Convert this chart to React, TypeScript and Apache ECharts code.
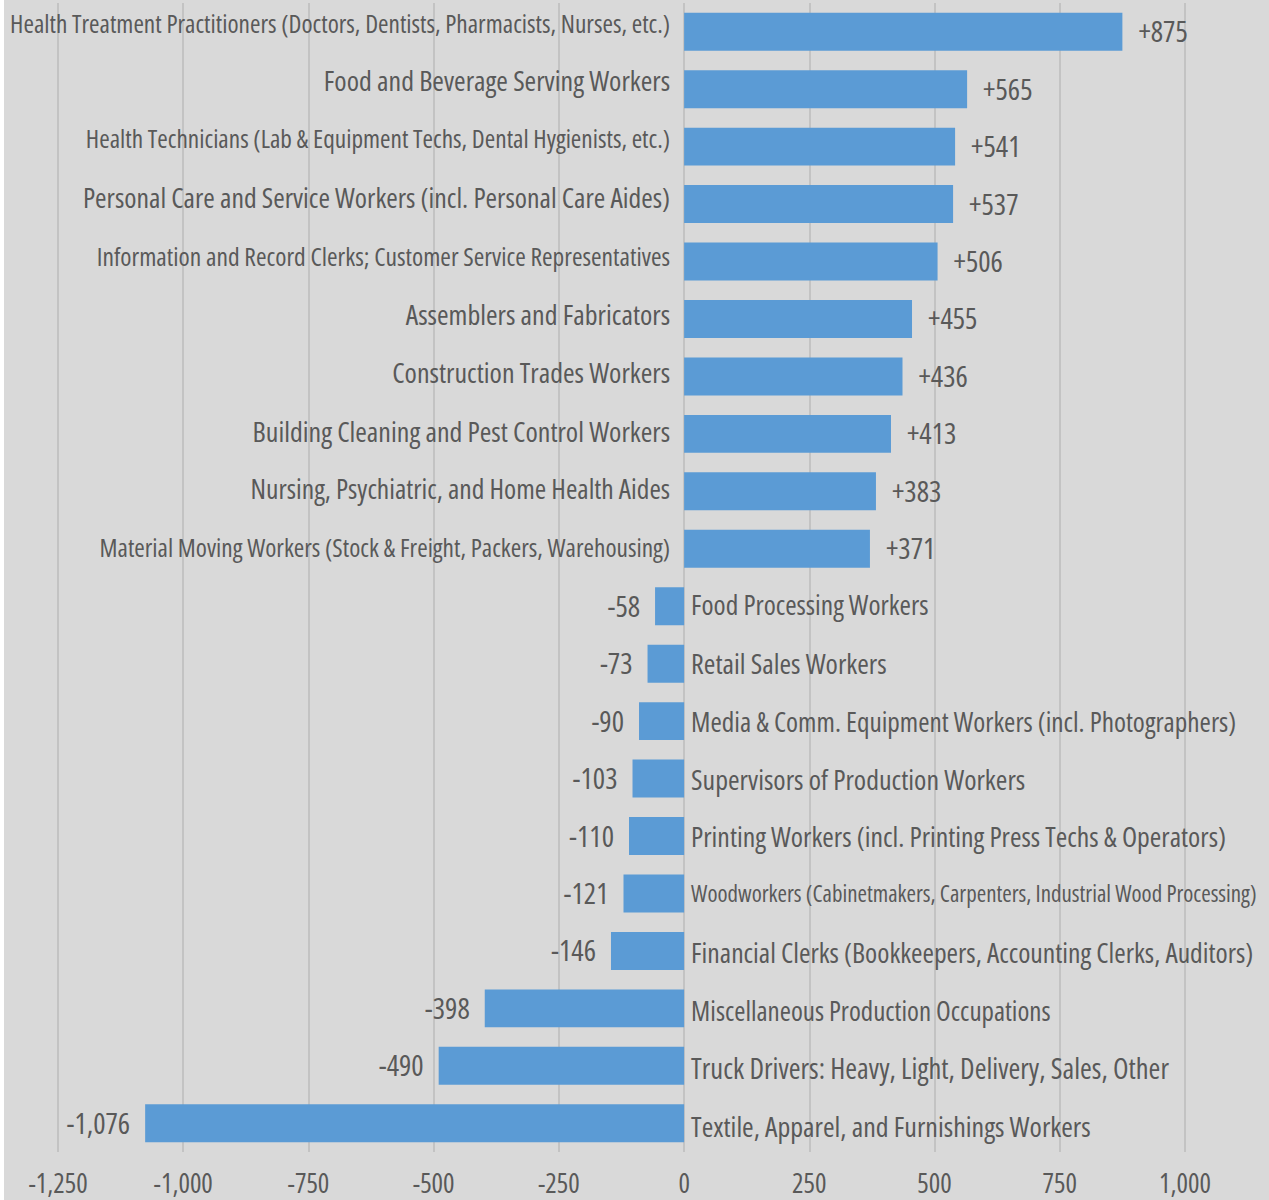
import React, { useEffect, useRef } from "react";
import * as echarts from "echarts";

const categories: string[] = [
  "Health Treatment Practitioners (Doctors, Dentists, Pharmacists, Nurses, etc.)",
  "Food and Beverage Serving Workers",
  "Health Technicians (Lab & Equipment Techs, Dental Hygienists, etc.)",
  "Personal Care and Service Workers (incl. Personal Care Aides)",
  "Information and Record Clerks; Customer Service Representatives",
  "Assemblers and Fabricators",
  "Construction Trades Workers",
  "Building Cleaning and Pest Control Workers",
  "Nursing, Psychiatric, and Home Health Aides",
  "Material Moving Workers (Stock & Freight, Packers, Warehousing)",
  "Food Processing Workers",
  "Retail Sales Workers",
  "Media & Comm. Equipment Workers (incl. Photographers)",
  "Supervisors of Production Workers",
  "Printing Workers (incl. Printing Press Techs & Operators)",
  "Woodworkers (Cabinetmakers, Carpenters, Industrial Wood Processing)",
  "Financial Clerks (Bookkeepers, Accounting Clerks, Auditors)",
  "Miscellaneous Production Occupations",
  "Truck Drivers: Heavy, Light, Delivery, Sales, Other",
  "Textile, Apparel, and Furnishings Workers",
];

const values: number[] = [
  875, 565, 541, 537, 506, 455, 436, 413, 383, 371,
  -58, -73, -90, -103, -110, -121, -146, -398, -490, -1076,
];

const tickValues: number[] = [-1250, -1000, -750, -500, -250, 0, 250, 500, 750, 1000];

// per-label font sizes and vertical nudges (style only)
const labelFontSizes: number[] = [
  25.3, 28, 25.3, 27.8, 25.5, 28, 28, 28, 27.6, 25.3,
  27.5, 28, 27.3, 28, 27.8, 22.9, 27.7, 27, 28.5, 28,
];
const labelNudges: number[] = [
  -9, -9, -9, -7, -6, -5, -4, -3, -3, -2,
  -2, -1, 0, 0, 0, 0, 1, 2, 2, 3,
];

const FONT = "Open Sans;font-stretch:75%";
const TEXT = "#595959";

const fmt = (v: number) => {
  const s = Math.abs(v).toLocaleString("en-US");
  return v < 0 ? "-" + s : s;
};

export default function App() {
  const ref = useRef<HTMLDivElement>(null);
  useEffect(() => {
    if (!ref.current) return;
    const chart = echarts.init(ref.current, undefined, { renderer: "svg" });
    const barData = values.map((v) => ({
      value: v,
      label: {
        position: v >= 0 ? "right" : "left",
        distance: v >= 0 ? 16 : 15,
        offset: [0, -1],
      },
    }));
    const nameData = values.map((v, i) => ({
      value: v,
      label: {
        position: v >= 0 ? "left" : "right",
        distance: v >= 0 ? 14 : 7,
        fontSize: labelFontSizes[i],
        offset: [0, labelNudges[i]],
      },
    }));
    chart.setOption({
      animation: false,
      backgroundColor: "#d9d9d9",
      grid: { left: 54, right: 84, top: 3, bottom: 48, containLabel: false },
      xAxis: {
        type: "value",
        min: tickValues[0],
        max: tickValues[tickValues.length - 1],
        interval: 250,
        axisLine: { show: false },
        axisTick: { show: false },
        splitLine: { show: true, lineStyle: { color: "#c3c3c3", width: 2 } },
        axisLabel: {
          color: TEXT,
          fontFamily: FONT,
          fontSize: 27,
          margin: 25,
          formatter: (v: number) => fmt(v),
        },
      },
      yAxis: {
        type: "category",
        data: categories,
        inverse: true,
        axisLine: { show: false },
        axisTick: { show: false },
        axisLabel: { show: false },
        splitLine: { show: false },
      },
      series: [
        {
          type: "bar",
          data: barData,
          barWidth: "66%",
          itemStyle: { color: "#5b9bd5" },
          label: {
            show: true,
            color: TEXT,
            fontFamily: FONT,
            fontSize: 29,
            formatter: (p: any) => (p.value > 0 ? "+" + fmt(p.value) : fmt(p.value)),
          },
        },
        {
          type: "bar",
          data: nameData,
          barWidth: "66%",
          barGap: "-100%",
          itemStyle: { color: "rgba(0,0,0,0)" },
          silent: true,
          label: {
            show: true,
            color: TEXT,
            fontFamily: FONT,
            fontSize: 28,
            formatter: (p: any) => p.name,
          },
        },
      ],
    });
    return () => chart.dispose();
  }, []);
  return (
    <div style={{ position: "absolute", left: 0, top: 0, width: 1269, height: 1200, background: "#ffffff" }}>
      <div ref={ref} style={{ position: "absolute", left: 4, top: 0, width: 1265, height: 1200 }} />
    </div>
  );
}
